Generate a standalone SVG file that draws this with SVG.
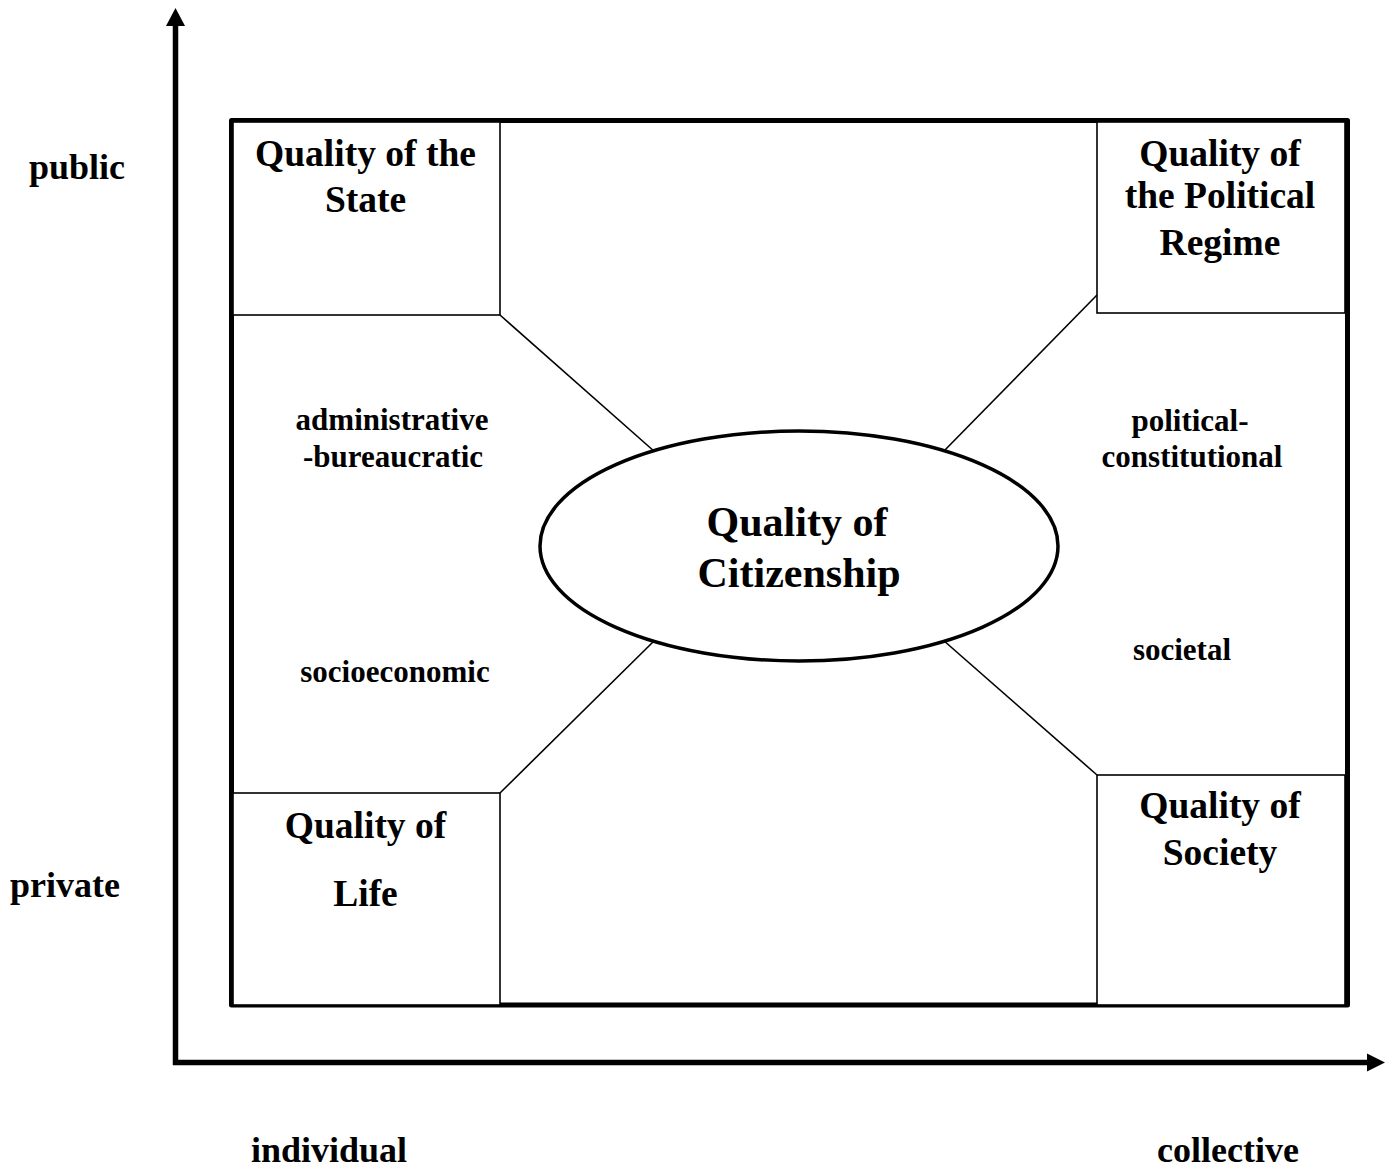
<svg xmlns="http://www.w3.org/2000/svg" width="1396" height="1173" viewBox="0 0 1396 1173">
<style>
text{font-family:"Liberation Serif","Times New Roman",serif;font-weight:bold;fill:#000;text-anchor:middle}
.t{font-size:37.5px}
.c{font-size:42px}
.l{font-size:31px}
.a{font-size:36px}
.box{fill:#fff;stroke:#000;stroke-width:1.6}
.conn{stroke:#000;stroke-width:1.6;fill:none}
.axis{stroke:#000;stroke-width:5.5;fill:none}
</style>
<rect width="1396" height="1173" fill="#fff"/>
<g id="axes">
<line class="axis" x1="175.5" y1="1065" x2="175.5" y2="22"/>
<polygon points="175.5,8 166,26 185,26" fill="#000"/>
<line class="axis" x1="173" y1="1062.5" x2="1370" y2="1062.5"/>
<polygon points="1385,1062.5 1367,1053.5 1367,1071.5" fill="#000"/>
</g>
<g id="frame">
<rect x="231.5" y="120.5" width="1116" height="884.5" fill="#fff" stroke="#000" stroke-width="5" stroke-linejoin="round"/>
</g>
<g id="connectors">
<line class="conn" x1="500" y1="315" x2="655" y2="452"/>
<line class="conn" x1="1097" y1="295" x2="943" y2="452"/>
<line class="conn" x1="500" y1="793" x2="655" y2="640"/>
<line class="conn" x1="1097" y1="775" x2="943" y2="640"/>
</g>
<g id="state">
<rect class="box" x="233" y="122" width="267" height="193"/>
<text class="t" x="365.5" y="166">Quality of the</text>
<text class="t" x="365.5" y="212">State</text>
</g>
<g id="regime">
<rect class="box" x="1097" y="122" width="248" height="191"/>
<text class="t" x="1220" y="166">Quality of</text>
<text class="t" x="1220" y="208">the Political</text>
<text class="t" x="1220" y="255">Regime</text>
</g>
<g id="life">
<rect class="box" x="233" y="793" width="267" height="212"/>
<text class="t" x="365.5" y="838">Quality of</text>
<text class="t" x="365.5" y="906">Life</text>
</g>
<g id="society">
<rect class="box" x="1097" y="775" width="248" height="230"/>
<text class="t" x="1220" y="818">Quality of</text>
<text class="t" x="1220" y="865">Society</text>
</g>
<g id="citizenship">
<ellipse cx="799" cy="546" rx="259" ry="115" fill="#fff" stroke="#000" stroke-width="3.5"/>
<text class="c" x="797" y="536">Quality of</text>
<text class="c" x="799" y="587">Citizenship</text>
</g>
<g id="labels">
<text class="l" x="392" y="430">administrative</text>
<text class="l" x="393" y="467">-bureaucratic</text>
<text class="l" x="1190" y="431">political-</text>
<text class="l" x="1192" y="467">constitutional</text>
<text class="l" x="395" y="682">socioeconomic</text>
<text class="l" x="1182" y="660">societal</text>
<text class="a" x="77" y="179">public</text>
<text class="a" x="65" y="897">private</text>
<text class="a" x="329" y="1162">individual</text>
<text class="a" x="1228" y="1162">collective</text>
</g>
</svg>
